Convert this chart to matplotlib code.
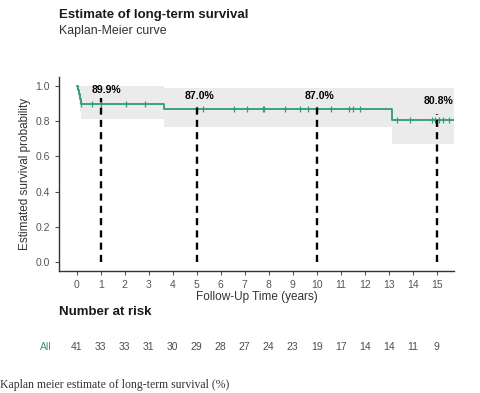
import matplotlib as mpl
import matplotlib.pyplot as plt

mpl.use('Agg')
plt.rcParams['font.family'] = ['Liberation Sans', 'DejaVu Sans']

# Kaplan-Meier step curve
times = [0.0, 0.05, 0.08, 0.12, 0.18, 3.62, 13.15, 15.73]
surv = [1.0, 0.976, 0.951, 0.927, 0.899, 0.870, 0.808, 0.808]
upper = [1.0, 1.0, 1.0, 1.0, 1.0, 0.987, 0.985, 0.985]
lower = [1.0, 0.93, 0.89, 0.85, 0.81, 0.768, 0.67, 0.67]

# censored observations
cens_t = [0.18, 0.65, 1.0, 2.05, 2.83,
          5.0, 5.25, 6.57, 7.1, 7.76, 7.8, 8.69, 9.32, 9.62, 10.0, 10.6, 11.35, 11.53, 11.82,
          13.35, 13.87, 14.82, 14.93, 15.1, 15.28, 15.49]

# landmark estimates
mark_t = [1, 5, 10, 15]
mark_s = [0.899, 0.870, 0.870, 0.808]
mark_lab = ['89.9%', '87.0%', '87.0%', '80.8%']

# number at risk
risk_t = list(range(16))
risk_n = [41, 33, 33, 31, 30, 29, 28, 27, 24, 23, 19, 17, 14, 14, 11, 9]

green = '#2e9c74'
W, H = 480, 393


def surv_at(t):
    s = surv[0]
    for ti, si in zip(times, surv):
        if ti <= t:
            s = si
    return s


fig = plt.figure(figsize=(4.8, 3.93), dpi=100)
ax = fig.add_axes([59 / W, 1 - 270.7 / H, (454.3 - 59) / W, (270.7 - 76.7) / H])

ax.fill_between(times, lower, upper, step='post', color='#ebebeb', lw=0)
ax.step(times, surv, where='post', color=green, lw=1.3)
ax.plot(cens_t, [surv_at(t) for t in cens_t], ls='none', marker='|',
        ms=5, mew=0.9, color=green)

for t, s, lab in zip(mark_t, mark_s, mark_lab):
    ax.plot([t, t], [0, s + 0.03], color='black', ls=(0, (3, 2.2)), lw=1.7)
ax.text(1.25, 0.976, mark_lab[0], ha='center', va='center', fontsize=7.5, fontweight='bold')
ax.text(5.1, 0.943, mark_lab[1], ha='center', va='center', fontsize=7.5, fontweight='bold')
ax.text(10.1, 0.943, mark_lab[2], ha='center', va='center', fontsize=7.5, fontweight='bold')
ax.text(15.08, 0.913, mark_lab[3], ha='center', va='center', fontsize=7.5, fontweight='bold')

ax.set_xlim(-0.74, 15.73)
ax.set_ylim(-0.048, 1.051)
ax.set_xticks(risk_t)
ax.set_yticks([0, 0.2, 0.4, 0.6, 0.8, 1.0])
ax.set_yticklabels(['0.0', '0.2', '0.4', '0.6', '0.8', '1.0'])
ax.tick_params(labelsize=7.5, colors='#555555', length=3, width=0.8)
for sp in ['top', 'right']:
    ax.spines[sp].set_visible(False)
for sp in ['left', 'bottom']:
    ax.spines[sp].set_color('#333333')
    ax.spines[sp].set_linewidth(1.0)
ax.set_xlabel('Follow-Up Time (years)', fontsize=8.5, color='#333333', labelpad=1)
ax.set_ylabel('Estimated survival probability', fontsize=8.5, color='#333333', labelpad=3)

fig.text(59 / W, 1 - 15 / H, 'Estimate of long-term survival', fontsize=9.5,
         fontweight='bold', va='center', ha='left', color='#1a1a1a')
fig.text(59 / W, 1 - 31 / H, 'Kaplan-Meier curve', fontsize=8.9,
         va='center', ha='left', color='#333333')

fig.text(59 / W, 1 - 312 / H, 'Number at risk', fontsize=9.5,
         fontweight='bold', va='center', ha='left', color='#1a1a1a')
fig.text(45.5 / W, 1 - 347 / H, 'All', fontsize=7.5, va='center', ha='center', color=green)
for t, n in zip(risk_t, risk_n):
    x = (76.7 + 24 * t) / W
    fig.text(x, 1 - 347 / H, str(n), fontsize=7.5, va='center', ha='center', color='#4d4d4d')

fig.text(0, 1 - 385 / H, 'Kaplan meier estimate of long-term survival (%)',
         fontsize=8.5, family=['Liberation Serif', 'DejaVu Serif'], va='center', ha='left',
         color='#333333')

fig.savefig('out.png', dpi=100)
